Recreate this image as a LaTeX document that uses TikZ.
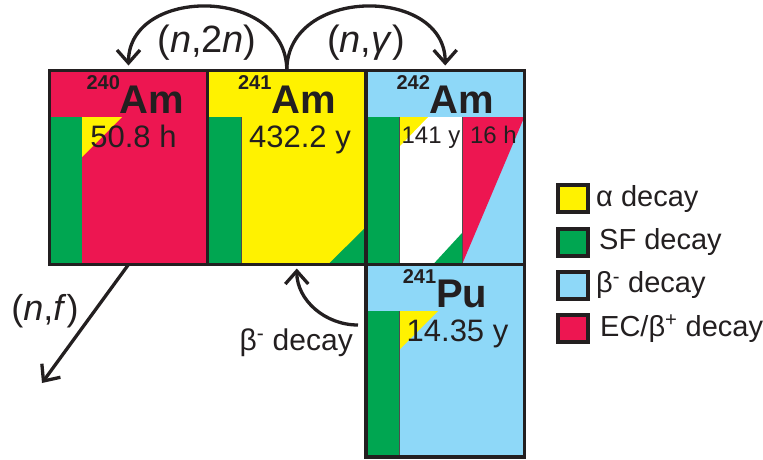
\documentclass[tikz,border=0pt]{standalone}
\usepackage{fontspec}
\setmainfont{Liberation Sans}
\usepackage{xcolor}
\usetikzlibrary{positioning,arrows.meta}

\definecolor{outline}{HTML}{231F20}
\definecolor{ecred}{HTML}{ED1651}
\definecolor{alphayellow}{HTML}{FFF200}
\definecolor{sfgreen}{HTML}{00A651}
\definecolor{betablue}{HTML}{8ED8F8}

\newcommand{\massno}[1]{\raisebox{24pt}{\fontsize{20}{20}\selectfont #1}}

\begin{document}
\begin{tikzpicture}[
  x=1pt, y=-1pt,
  cell/.style={draw=outline, line width=3.5pt, inner sep=0pt, outer sep=0pt,
    minimum width=158.3pt, minimum height=194pt},
  symbol/.style={anchor=base, inner sep=0pt, font=\fontsize{40}{40}\selectfont\bfseries, text=outline},
  halflife/.style={anchor=base, inner sep=0pt, font=\fontsize{31}{31}\selectfont, text=outline},
  smalllife/.style={anchor=base, inner sep=0pt, font=\fontsize{24}{24}\selectfont, text=outline},
  reaction/.style={anchor=base, inner sep=0pt, font=\fontsize{38}{38}\selectfont, text=outline},
  key/.style={draw=outline, line width=4pt, minimum width=30pt, minimum height=27pt, inner sep=0pt},
  keytext/.style={inner sep=0pt, text height=21pt, text depth=6pt,
    font=\fontsize{29}{29}\selectfont, text=outline},
  divider/.style={draw=outline!80, line width=0.8pt},
  conn/.style={draw=outline, line width=3.3pt,
    -{Straight Barb[length=13pt, width=23pt]}}
]
\useasboundingbox (0,0) rectangle (763,459);

% 240Am
\fill[ecred] (49.4,70.5) rectangle (207.7,264.5);
\fill[sfgreen] (49.4,117) rectangle (82,264.5);
\fill[alphayellow] (82,117) -- (122,117) -- (82,157) -- cycle;
% 241Am
\fill[alphayellow] (207.7,70.5) rectangle (366,264.5);
\fill[sfgreen] (207.7,117) rectangle (241,264.5);
\fill[sfgreen] (328,264.5) -- (366,264.5) -- (366,227) -- cycle;
\draw[divider] (241,117) -- (241,264.5);
% 242Am
\fill[betablue] (366,70.5) rectangle (524.3,264.5);
\fill[sfgreen] (366,117) rectangle (399,264.5);
\fill[white] (399,117) rectangle (462,264.5);
\fill[alphayellow] (399,117) -- (428,117) -- (399,147) -- cycle;
\fill[sfgreen] (433,264.5) -- (462,264.5) -- (462,233) -- cycle;
\fill[ecred] (462,117) -- (524.3,117) -- (462,264.5) -- cycle;
\draw[divider] (399,117) -- (399,264.5);
\draw[divider] (462,117) -- (462,264.5);
% 241Pu
\fill[betablue] (366,264.5) rectangle (524.3,457);
\fill[sfgreen] (366,311) rectangle (399,457);
\fill[alphayellow] (399,311) -- (438,311) -- (399,350) -- cycle;
\draw[divider] (399,311) -- (399,457);

% cells
\node[cell] (am240) at (128.5,167.5) {};
\node[cell] (am241) at (286.8,167.5) {};
\node[cell] (am242) at (445.2,167.5) {};
\node[cell, minimum height=192.5pt] (pu241) at (445.2,360.8) {};

% nuclides and half-lives
\node[symbol] (sym240) at (135.5,113) {\massno{240}Am};
\node[symbol] (sym241) at (287,113) {\massno{241}Am};
\node[symbol] (sym242) at (445.5,113) {\massno{242}Am};
\node[symbol] (sympu) at (445,307) {\massno{241}Pu};
\node[halflife] (life240) at (133.5,147) {50.8 h};
\node[halflife] (life241) at (300,147) {432.2 y};
\node[smalllife] (life242m) at (431,143) {141 y};
\node[smalllife] (life242) at (493.5,143) {16 h};
\node[halflife] (lifepu) at (457.5,341) {14.35 y};

% reactions
\node[reaction] (n2n) at (207,52) {(\textit{n},2\textit{n})};
\node[reaction] (ngamma) at (366,52) {(\textit{n},\textit{γ})};
\node[reaction, font=\fontsize{36}{36}\selectfont] (nf) at (45,320) {(\textit{n},\textit{f})};
\node[anchor=base east, inner sep=0pt, font=\fontsize{30}{30}\selectfont, text=outline]
  (betalbl) at (353,350) {β\textsuperscript{-} decay};
\coordinate (nfend) at (42,383);
\coordinate (betastart) at (358,325);

\draw[conn] (am241.north) .. controls (286.8,-14) and (128.5,-14) .. ([yshift=5pt]am240.north);
\draw[conn] (am241.north) .. controls (286.8,-14) and (445.2,-14) .. ([yshift=5pt]am242.north);
\draw[conn] (am240.south) -- (nfend);
\draw[conn] (betastart) .. controls (325,325) and (296.8,300) .. ([shift={(10pt,-4pt)}]am241.south);

% legend
\node[key, fill=alphayellow] (keyalpha) at (573,198.5) {};
\node[key, fill=sfgreen] (keysf) at (573,242) {};
\node[key, fill=betablue] (keybeta) at (573,285) {};
\node[key, fill=ecred] (keyec) at (573,328.5) {};
\node[keytext, right=6pt of keyalpha] (txtalpha) {α decay};
\node[keytext, right=9pt of keysf] (txtsf) {SF decay};
\node[keytext, right=6pt of keybeta] (txtbeta) {β\textsuperscript{-} decay};
\node[keytext, right=10pt of keyec] (txtec) {EC/β\textsuperscript{+} decay};
\end{tikzpicture}
\end{document}
